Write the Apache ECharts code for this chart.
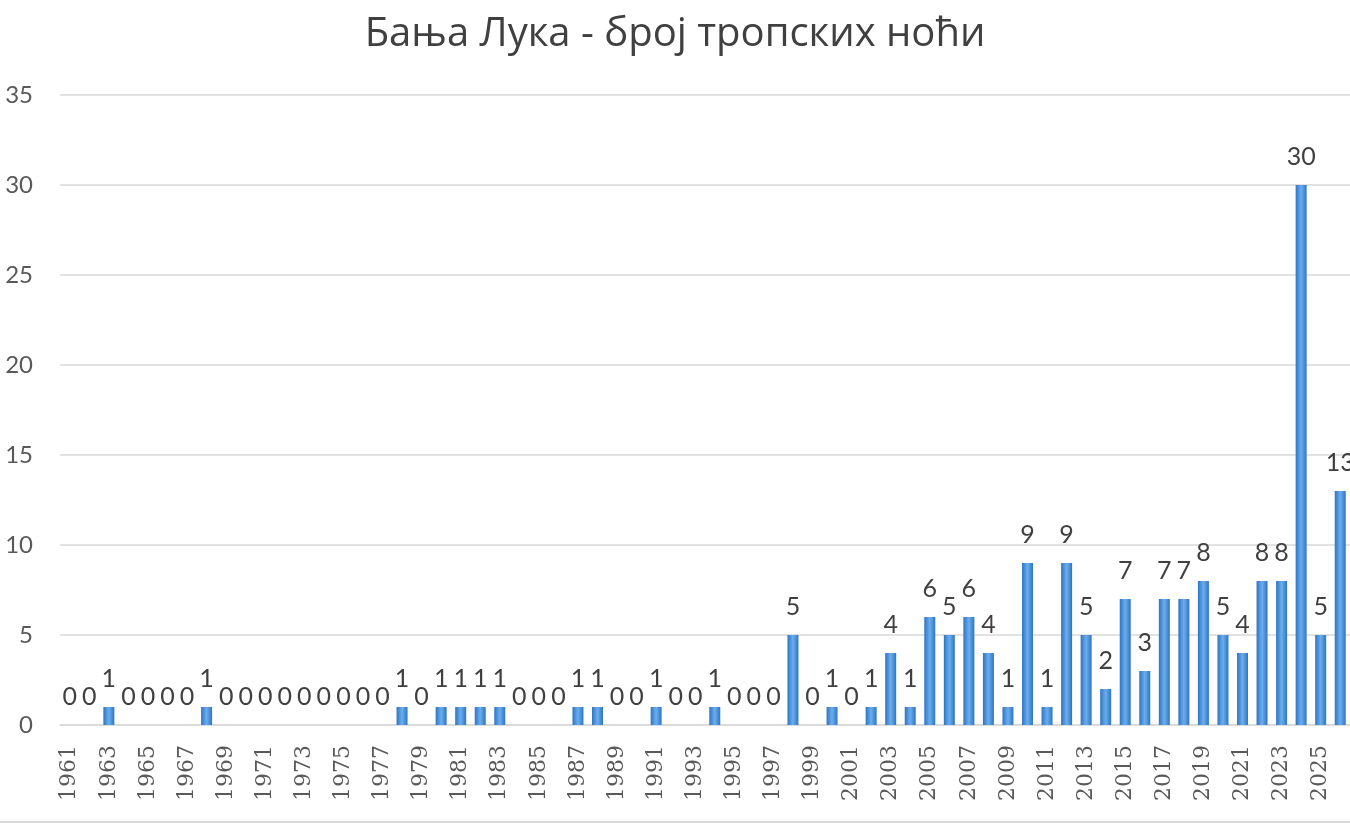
<!DOCTYPE html>
<html lang="sr">
<head>
    <meta charset="UTF-8">
    <title>Бања Лука - број тропских ноћи</title>
    <style>
        * { padding: 0; margin: 0; }
        html, body { height: 100%; width: 100%; background: #fff; }
        #chart { width: 1350px; height: 831px; }
    </style>
</head>
<body>
    <div id="chart"></div>
    <script src="https://cdn.jsdelivr.net/npm/echarts@6/dist/echarts.min.js"></script>
    <script type="text/javascript">
        // године 1961 - 2026
        const years = [];
        for (let y = 1961; y <= 2026; y++) years.push(String(y));

        // број тропских ноћи по години
        const nights = [
            0, 0, 1, 0, 0, 0, 0, 1, 0, 0,      // 1961-1970
            0, 0, 0, 0, 0, 0, 0, 1, 0, 1,      // 1971-1980
            1, 1, 1, 0, 0, 0, 1, 1, 0, 0,      // 1981-1990
            1, 0, 0, 1, 0, 0, 0, 5, 0, 1,      // 1991-2000
            0, 1, 4, 1, 6, 5, 6, 4, 1, 9,      // 2001-2010
            1, 9, 5, 2, 7, 3, 7, 7, 8, 5,      // 2011-2020
            4, 8, 8, 30, 5, 13                 // 2021-2026
        ];

        const yTicks = [0, 5, 10, 15, 20, 25, 30, 35];

        const chart = echarts.init(document.getElementById('chart'));
        const option = {
            backgroundColor: '#fff',
            animation: false,
            title: {
                text: 'Бања Лука - број тропских ноћи',
                left: 'center',
                top: 10,
                textStyle: {
                    fontFamily: 'Open Sans',
                    fontSize: 40,
                    fontWeight: 'normal',
                    color: '#404040'
                }
            },
            grid: {
                left: 60,
                top: 95,
                width: 1293,
                height: 630
            },
            xAxis: {
                type: 'category',
                data: years,
                axisLine: { show: true, lineStyle: { color: '#d9d9d9', width: 1.5 } },
                axisTick: { show: false },
                axisLabel: {
                    interval: 1,
                    rotate: 90,
                    margin: 20,
                    fontFamily: 'DejaVu Serif',
                    fontSize: 22,
                    color: '#595959'
                }
            },
            yAxis: {
                type: 'value',
                min: yTicks[0],
                max: yTicks[yTicks.length - 1],
                interval: 5,
                axisLine: { show: false },
                axisTick: { show: false },
                axisLabel: {
                    margin: 27,
                    fontFamily: 'Lato',
                    fontSize: 24,
                    color: '#595959'
                },
                splitLine: { lineStyle: { color: '#d9d9d9', width: 1.5 } }
            },
            series: [{
                type: 'bar',
                data: nights,
                barWidth: 11,
                itemStyle: {
                    color: new echarts.graphic.LinearGradient(0, 0, 1, 0, [
                        { offset: 0, color: '#2f74c0' },
                        { offset: 0.5, color: '#6aaef0' },
                        { offset: 1, color: '#2f74c0' }
                    ])
                },
                label: {
                    show: true,
                    position: 'top',
                    distance: 16,
                    fontFamily: 'Lato',
                    fontSize: 25,
                    color: '#404040'
                }
            }],
            graphic: [{
                type: 'line',
                shape: { x1: 0, y1: 822, x2: 1350, y2: 822 },
                style: { stroke: '#d9d9d9', lineWidth: 2 }
            }]
        };
        chart.setOption(option);
    </script>
</body>
</html>
